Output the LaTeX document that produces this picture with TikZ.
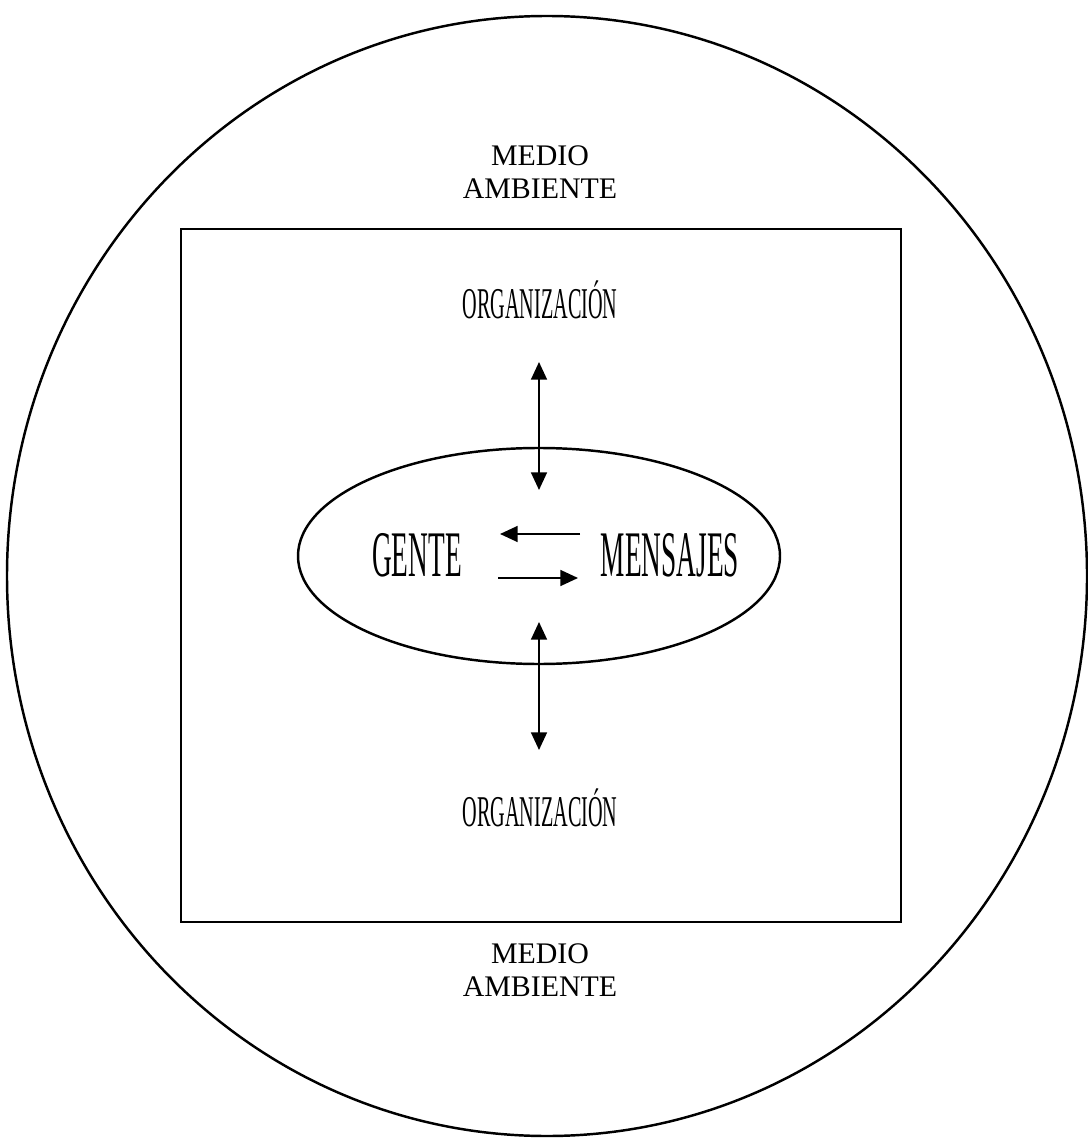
\documentclass[tikz,border=0pt]{standalone}
\usepackage{fontspec}
\setmainfont{Liberation Serif}
\newfontfamily\orgfont[FakeStretch=0.46]{Liberation Serif}
\newfontfamily\bigfont[FakeStretch=0.42]{Liberation Serif}
\usetikzlibrary{arrows.meta,shapes.geometric}
\tikzstyle{frame} = [draw, line width=1.4pt, inner sep=0pt]
\tikzstyle{label} = [align=center, inner sep=1pt]
\tikzstyle{dblarrow} = [line width=1.1pt, {Triangle[length=10pt,width=9pt]}-{Triangle[length=10pt,width=9pt]}]
\tikzstyle{onearrow} = [line width=1.1pt, -{Triangle[length=10pt,width=9pt]}]

\begin{document}
\begin{tikzpicture}
    \useasboundingbox (0,0) rectangle (21.74,-22.76);
    \node[frame,ellipse,minimum width=21.6cm,minimum height=22.4cm] (world) at (10.94,-11.52) {};
    \node[frame,minimum width=14.4cm,minimum height=13.86cm] (box) at (10.82,-11.51) {};
    \node[frame,ellipse,minimum width=9.64cm,minimum height=4.32cm] (core) at (10.78,-11.12) {};
    \node[label,font=\fontsize{17}{19}\selectfont] (medtop) at (10.8,-3.44) {MEDIO\\AMBIENTE};
    \node[label,font=\fontsize{17}{19}\selectfont] (medbot) at (10.8,-19.4) {MEDIO\\AMBIENTE};
    \node[label,font=\orgfont\fontsize{25}{25}\selectfont] (orgtop) at (10.8,-6.0) {ORGANIZACIÓN};
    \node[label,font=\orgfont\fontsize{25}{25}\selectfont] (orgbot) at (10.8,-16.16) {ORGANIZACIÓN};
    \node[label,font=\bigfont\fontsize{37}{37}\selectfont] (gente) at (8.34,-11.1) {GENTE};
    \node[label,font=\bigfont\fontsize{37}{37}\selectfont] (mensajes) at (13.4,-11.1) {MENSAJES};
    % ends of the arrows
    \coordinate (uptop) at (10.78,-7.24);
    \coordinate (upbot) at (10.78,-9.8);
    \coordinate (lowtop) at (10.78,-12.44);
    \coordinate (lowbot) at (10.78,-15.0);
    \coordinate (toleft) at (10.0,-10.68);
    \coordinate (fromright) at (11.6,-10.68);
    \coordinate (fromleft) at (9.96,-11.56);
    \coordinate (toright) at (11.56,-11.56);
    \draw[dblarrow] (uptop) -- (upbot);
    \draw[dblarrow] (lowtop) -- (lowbot);
    \draw[onearrow] (fromright) -- (toleft);
    \draw[onearrow] (fromleft) -- (toright);
\end{tikzpicture}
\end{document}
